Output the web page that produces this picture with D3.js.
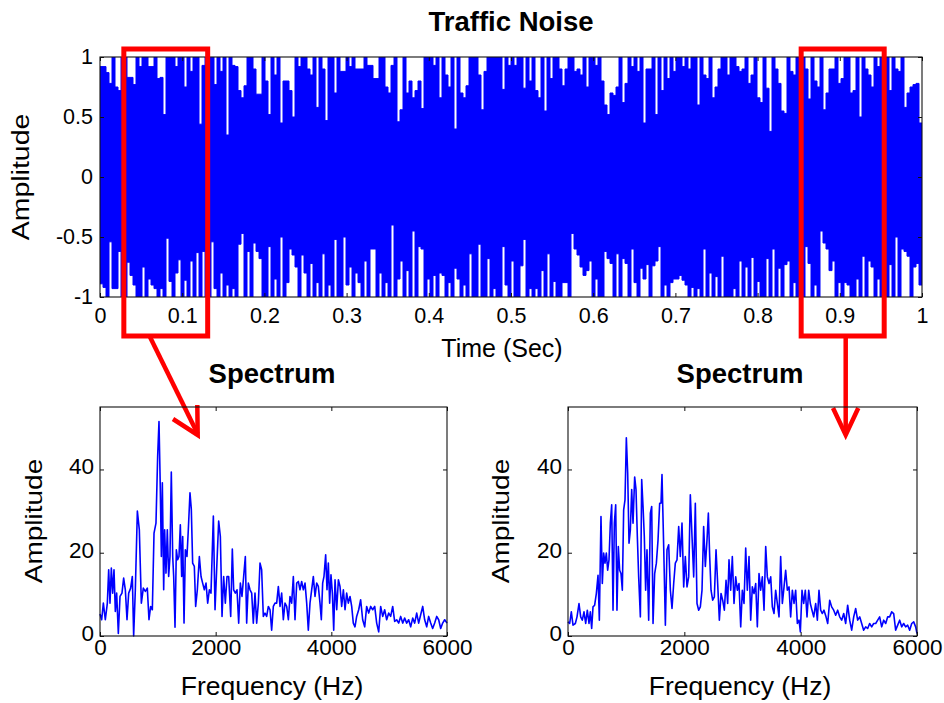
<!DOCTYPE html>
<html>
<head>
<meta charset="utf-8">
<script src="https://cdn.jsdelivr.net/npm/d3@7"></script>
<style>
  body { margin: 0; background: #fff; }
  svg { display: block; }
  text { font-family: "Liberation Sans", Arial, Helvetica, sans-serif; fill: #000; }
</style>
</head>
<body>
<svg id="chart" width="944" height="703"></svg>
<script>
// ---------------- DATA ----------------
const timeTicks = [0, 0.1, 0.2, 0.3, 0.4, 0.5, 0.6, 0.7, 0.8, 0.9, 1];
const ampTicks = [-1, -0.5, 0, 0.5, 1];

// Upper / lower envelope of the traffic-noise waveform (274 equal time slots over 1 s)
const noiseUpper = [
  0.92,0.92,0.87,0.78,1,0.75,0.72,1,1,0.83,
  0.83,0.77,1,0.92,1,1,0.92,0.92,1,0.82,
  0.83,0.52,1,1,1,0.92,1,1,0.75,1,
  0.88,1,1,0.44,0.93,1,1,1,0.77,1,
  0.88,1,0.35,1,0.93,0.92,0.72,0.66,0.76,1,
  1,0.9,0.69,0.69,1,0.8,0.52,1,0.85,1,
  0.45,0.8,0.8,0.72,0.5,1,0.92,1,1,0.9,
  0.85,1,0.58,1,0.9,0.47,1,1,0.7,1,
  0.88,0.88,1,0.92,1,0.9,0.9,0.9,1,0.93,
  0.93,0.82,0.82,1,1,0.75,0.7,0.93,1,0.46,
  0.56,1,0.7,0.8,0.66,0.72,0.8,0.57,1,1,
  1,0.93,1,0.66,1,0.85,0.75,1,0.4,1,
  0.7,0.66,0.76,1,1,1,0.85,0.56,0.88,1,
  1,1,1,1,0.73,1,0.93,1,0.93,1,
  1,0.74,1,0.8,1,0.72,0.66,1,0.55,1,
  0.82,1,1,0.9,0.76,0.9,1,1,0.88,0.9,
  0.85,1,0.75,1,1,0.93,1,0.8,0.6,0.52,
  0.7,0.68,0.75,1,0.62,0.78,1,0.92,1,0.88,
  1,0.45,0.9,0.9,1,0.52,1,0.72,1,0.82,
  1,0.88,1,1,0.92,1,0.9,1,1,0.6,
  1,0.85,0.82,1,0.66,0.75,0.9,1,1,0.85,
  1,1,0.92,0.88,0.9,1,0.78,0.85,1,0.66,
  0.62,1,0.74,0.38,1,0.9,0.78,0.55,0.53,1,
  0.88,0.85,1,1,1,0.9,0.65,1,0.8,0.75,
  1,0.56,0.7,0.9,0.9,1,0.78,0.82,1,1,
  0.7,0.72,1,0.5,1,0.9,0.85,0.75,1,0.92,
  1,1,1,0.72,1,0.9,0.88,1,0.58,0.7,
  0.75,0.77,0.78,0.45
];
const noiseLower = [
  -0.89,-0.92,-1,-0.54,-0.93,-0.93,-0.62,-1,-1,-0.71,
  -0.82,-0.9,-1,-1,-0.75,-1,-0.85,-0.9,-0.93,-1,
  -0.93,-1,-0.51,-0.87,-1,-0.8,-0.69,-1,-0.86,-1,
  -0.7,-1,-0.63,-1,-0.62,-1,-1,-0.54,-0.93,-1,
  -0.8,-1,-0.9,-1,-0.93,-1,-0.56,-0.47,-1,-0.62,
  -1,-0.55,-0.62,-0.68,-1,-1,-0.58,-1,-0.85,-1,
  -0.5,-1,-0.88,-0.6,-0.65,-0.75,-1,-0.65,-0.8,-1,
  -0.72,-1,-0.88,-1,-0.64,-1,-0.9,-1,-0.52,-1,
  -1,-0.5,-0.9,-0.75,-1,-0.8,-0.88,-1,-0.7,-1,
  -0.6,-0.6,-1,-0.8,-1,-0.88,-1,-0.4,-1,-0.85,
  -0.7,-1,-0.78,-1,-0.45,-1,-0.58,-0.6,-1,-0.85,
  -1,-0.82,-1,-0.8,-0.82,-1,-0.88,-1,-0.76,-0.85,
  -1,-0.9,-1,-0.64,-1,-1,-0.56,-1,-1,-0.68,
  -1,-0.93,-1,-1,-0.58,-0.9,-1,-0.7,-1,-1,
  -0.74,-0.52,-1,-0.93,-1,-0.93,-1,-0.78,-1,-0.64,
  -1,-0.87,-1,-1,-0.88,-0.88,-1,-0.47,-0.6,-0.65,
  -0.75,-0.82,-0.78,-0.7,-1,-0.85,-1,-1,-0.62,-0.68,
  -0.72,-1,-0.64,-1,-0.68,-0.72,-1,-0.6,-0.88,-1,
  -0.76,-0.85,-0.73,-1,-0.74,-0.7,-0.58,-1,-0.9,-1,
  -0.88,-0.85,-0.85,-0.82,-0.86,-0.9,-1,-0.92,-1,-0.93,
  -1,-0.6,-1,-0.8,-1,-0.83,-1,-0.66,-1,-1,
  -1,-0.93,-1,-0.7,-1,-0.75,-1,-0.67,-1,-0.87,
  -1,-1,-0.68,-1,-0.6,-1,-0.76,-1,-0.73,-0.7,
  -1,-0.88,-1,-1,-1,-0.58,-0.72,-1,-0.9,-1,
  -0.45,-0.55,-0.6,-0.78,-0.7,-1,-0.88,-1,-0.88,-0.9,
  -1,-1,-0.85,-1,-0.66,-1,-0.7,-0.75,-1,-0.85,
  -1,-1,-1,-0.73,-1,-0.5,-1,-0.6,-0.62,-0.66,
  -1,-0.75,-0.72,-0.9
];

// Time windows highlighted by the red boxes (seconds)
const zoomWindows = [[0.029, 0.131], [0.853, 0.954]];

const freqTicks = [0, 2000, 4000, 6000];
const specTicks = [0, 20, 40];

// Spectrum of the first window (0.03 - 0.13 s)
const spec1Freq = [0,29,58,92,127,150,173,196,219,242,265,288,317,346,380,409,438,467,496,530,559,582,611,646,680,715,749,784,818,847,876,905,934,968,997,1020,1043,1061,1078,1101,1118,1141,1164,1187,1210,1233,1257,1274,1297,1320,1343,1366,1389,1412,1430,1453,1476,1504,1527,1556,1579,1602,1631,1654,1683,1718,1747,1775,1804,1833,1862,1891,1919,1960,1989,2017,2052,2081,2110,2138,2167,2196,2225,2260,2288,2311,2340,2369,2398,2427,2455,2484,2513,2536,2565,2594,2623,2651,2680,2709,2738,2767,2795,2824,2853,2882,2911,2940,2968,2997,3026,3055,3084,3113,3141,3170,3199,3228,3257,3285,3314,3343,3372,3401,3430,3458,3487,3516,3545,3574,3602,3631,3660,3689,3718,3747,3775,3804,3827,3850,3873,3902,3925,3948,3971,3994,4018,4041,4064,4093,4122,4150,4179,4208,4237,4265,4294,4323,4352,4380,4409,4438,4473,4507,4542,4577,4611,4646,4680,4715,4750,4784,4819,4853,4888,4922,4957,4992,5026,5061,5095,5130,5165,5199,5234,5268,5303,5337,5372,5407,5441,5476,5510,5545,5580,5614,5649,5683,5718,5752,5787,5822,5856,5891,5925,5960,6000];
const spec1Amp = [5.3,3.9,7.9,3.9,7.9,15.9,7.9,16.3,10.3,15.9,5.9,10.3,0.6,9.5,10.3,13.9,11.1,3.9,10.3,11.5,14.3,0,11.1,30,25.5,7.9,11.5,10.7,11.5,3.9,7.1,6.3,24.7,27.1,43.2,51.5,35.2,19.1,36.8,11.1,25.5,15.1,25.5,14.3,19.1,39.4,19.1,14.3,2.1,20.7,18.3,19.1,26.7,14.3,23.9,3.1,20.7,19.1,25.5,34.4,30.4,17.5,16.7,7.1,11.1,19.1,14.3,12.7,11.1,12.7,7.9,11.1,10.3,28.8,6.3,15.9,27.6,23.9,4.7,14.3,7.9,14.3,14.3,4.7,20.9,11.1,10.3,11.1,3.1,12.7,9.5,14.3,19.1,3.1,12.7,11.1,10.3,3.1,10.3,3.1,7.9,17.5,15.9,4.7,5.5,4.7,7.1,6.3,1.4,7.1,7.9,7.9,11.9,7.1,10.3,3.9,7.9,7.1,3.9,9.5,7.9,14.3,3.9,12.7,13.1,11.1,13.1,11.1,12.7,7.9,1.4,7.9,11.1,14.3,9.5,12.7,11.9,7.9,3.9,12.7,14.3,19.5,11.1,17.5,7.9,14.7,10.3,1.4,13.5,6.3,13.5,11.9,7.1,11.1,6.3,10.3,7.9,9.5,7.1,3.1,2.2,4.7,6.3,8.7,3.9,2.2,7.1,5.5,7.1,6.3,7.1,3.1,1.0,7.1,4.7,6.3,3.9,5.5,4.7,7.1,3.5,3.9,3.1,4.7,3.1,4.3,3.1,3.9,2.2,4.3,3.1,5.5,3.1,5.1,7.1,3.9,2.2,4.7,3.1,1.8,3.1,4.7,3.9,1.8,3.1,3.9,3.1];

// Spectrum of the second window (0.85 - 0.95 s)
const spec2Freq = [0,29,57,86,126,155,189,218,246,275,304,332,361,384,407,430,458,487,516,539,567,590,613,636,659,682,705,728,751,774,797,820,842,865,888,911,934,957,980,1003,1026,1049,1072,1095,1118,1146,1169,1192,1215,1244,1267,1290,1312,1335,1358,1387,1416,1439,1462,1490,1519,1548,1576,1599,1616,1645,1674,1702,1731,1760,1788,1817,1845,1874,1903,1931,1960,1989,2017,2046,2075,2103,2132,2161,2189,2218,2247,2275,2304,2332,2361,2390,2413,2436,2459,2487,2516,2545,2573,2602,2631,2659,2688,2717,2745,2768,2797,2825,2854,2883,2911,2940,2969,2997,3026,3055,3083,3112,3141,3169,3198,3227,3255,3284,3312,3341,3370,3399,3427,3456,3485,3513,3542,3570,3599,3628,3656,3685,3714,3742,3771,3800,3828,3857,3886,3914,3943,3972,3995,4023,4052,4080,4109,4138,4166,4195,4224,4258,4287,4315,4344,4373,4401,4436,4465,4499,4533,4568,4602,4636,4671,4705,4740,4774,4808,4843,4877,4912,4946,4980,5015,5049,5083,5118,5152,5186,5221,5255,5290,5324,5358,5393,5427,5462,5496,5530,5565,5599,5633,5668,5702,5737,5771,5805,5840,5874,5909,5943,5977,6000];
const spec2Amp = [3.4,3.0,5.8,2.6,3.0,4.6,7.8,4.6,3.8,5.8,3.0,6.2,3.0,5.8,1.8,7.0,7.4,10.2,14.6,3.8,28.7,12.6,19.9,17.5,19.9,15.8,18.3,27.1,31.5,6.2,27.1,31.5,6.2,21.5,15.8,15.0,11.0,30.3,32.7,47.6,39.2,22.3,25.5,35.2,27.1,38.2,35.2,23.9,14.2,4.6,37.6,31.1,23.9,11.0,20.7,3.8,29.5,31.1,3.0,15.0,17.5,23.1,31.9,31.9,38.8,21.5,2.6,20.7,21.9,11.0,6.6,12.6,17.5,18.3,26.3,19.1,27.1,11.8,19.1,11.8,14.2,33.9,23.9,14.2,31.9,7.8,6.2,7.0,11.0,26.3,16.7,23.1,29.5,19.1,11.0,8.6,9.4,20.7,12.6,3.8,10.2,8.6,6.2,13.4,7.8,18.3,11.0,19.1,7.8,14.2,11.0,12.6,2.2,11.0,7.8,21.1,11.0,19.1,3.8,11.8,10.2,12.6,2.2,15.0,11.0,14.2,6.2,21.5,14.2,12.6,14.2,7.0,5.4,11.0,7.8,4.6,19.1,7.8,11.8,15.8,11.0,11.8,4.6,11.0,7.8,11.0,3.0,3.8,1.0,11.0,7.8,11.0,4.6,11.0,7.8,6.2,4.6,7.8,3.8,11.0,6.2,5.4,6.2,4.6,3.0,8.6,7.0,6.2,5.0,6.2,4.6,3.8,5.4,3.0,7.4,3.8,1.4,4.6,6.6,3.8,4.6,3.0,1.4,2.2,1.8,3.0,2.2,3.0,3.0,3.8,4.6,2.2,3.8,3.0,4.6,4.6,5.8,5.4,1.4,2.6,3.8,2.2,3.0,2.2,2.6,1.4,3.0,3.4,2.2,0.6];

// ---------------- LAYOUT ----------------
const BLUE = "#0000ff", RED = "#ff0000";
const FONT = '"Liberation Sans", Arial, Helvetica, sans-serif';
const svg = d3.select("#chart");

function styleAxis(g, fontSize, sx) {
  g.attr("font-size", null).attr("font-family", null).attr("color", "#111");
  g.select(".domain").remove();
  g.selectAll(".tick line").attr("stroke-width", 1);
  g.selectAll(".tick text")
    .style("font-size", fontSize + "px")
    .style("font-family", FONT)
    .attr("fill", "#000")
    .each(function () {
      const t = d3.select(this);
      const x = +t.attr("x") || 0;
      if (sx !== 1) t.attr("transform", `scale(${sx},1)`).attr("x", x / sx);
    });
}

function boxedAxes(g, x, y, xTicks, yTicks, o) {
  const [x0, x1] = x.range(), [y0, y1] = y.range(); // y0 bottom, y1 top
  const gb = g.append("g").attr("transform", `translate(0,${y0})`)
    .call(d3.axisBottom(x).tickValues(xTicks).tickSize(-o.tick).tickPadding(o.xPad).tickFormat(d => String(d)));
  styleAxis(gb, o.tickFont, o.sx);
  const gt = g.append("g").attr("transform", `translate(0,${y1})`)
    .call(d3.axisTop(x).tickValues(xTicks).tickSize(-o.tick).tickFormat(""));
  styleAxis(gt, o.tickFont, 1);
  const gl = g.append("g").attr("transform", `translate(${x0},0)`)
    .call(d3.axisLeft(y).tickValues(yTicks).tickSize(-o.tick).tickPadding(o.yPad).tickFormat(d => String(d)));
  styleAxis(gl, o.tickFont, o.sx);
  gl.selectAll(".tick text").attr("dy", o.yDy);
  const gr = g.append("g").attr("transform", `translate(${x1},0)`)
    .call(d3.axisRight(y).tickValues(yTicks).tickSize(-o.tick).tickFormat(""));
  styleAxis(gr, o.tickFont, 1);
  g.append("rect")
    .attr("x", x0).attr("y", y1).attr("width", x1 - x0).attr("height", y0 - y1)
    .attr("fill", "none").attr("stroke", "#111").attr("stroke-width", 1.1);
}

function label(txt, x, y, size, opts = {}) {
  const sx = opts.sx || 1;
  const rot = opts.rotate ? " rotate(-90)" : "";
  return svg.append("text")
    .attr("transform", `translate(${x},${y}) scale(${sx},1)${rot}`)
    .attr("text-anchor", "middle")
    .attr("dy", opts.dy || 0)
    .style("font-size", size + "px")
    .style("font-weight", opts.bold ? "bold" : "normal")
    .text(txt);
}

// ---------------- TOP: TRAFFIC NOISE ----------------
const xT = d3.scaleLinear().domain([0, 1]).range([100, 922]);
const yT = d3.scaleLinear().domain([-1, 1]).range([297, 57]);

svg.append("clipPath").attr("id", "clipTop")
  .append("rect").attr("x", 100).attr("y", 57).attr("width", 822).attr("height", 240);

const N = noiseUpper.length;
const noise = noiseUpper.map((u, i) => ({ t: i / N, hi: u, lo: noiseLower[i] }));
noise.push({ t: 1, hi: noiseUpper[N - 1], lo: noiseLower[N - 1] });

const noiseArea = d3.area()
  .x(d => xT(d.t)).y0(d => yT(d.lo)).y1(d => yT(d.hi))
  .curve(d3.curveStepAfter);

svg.append("path")
  .datum(noise)
  .attr("clip-path", "url(#clipTop)")
  .attr("d", noiseArea)
  .attr("fill", BLUE).attr("stroke", BLUE).attr("stroke-width", 1);

const gTop = svg.append("g");
boxedAxes(gTop, xT, yT, timeTicks, ampTicks, { tick: 4, xPad: 10.5, yPad: 7, tickFont: 21.5, sx: 1, yDy: "0.32em" });

label("Traffic Noise", 511, 31, 27.5, { bold: true });
label("Time (Sec)", 502, 357, 25);
label("Amplitude", 22.5, 177, 28.5, { rotate: true, sx: 0.85, dy: "0.26em" });

// red boxes marking the analysed windows
svg.append("g").selectAll("rect").data(zoomWindows).join("rect")
  .attr("x", d => xT(d[0])).attr("width", d => xT(d[1]) - xT(d[0]))
  .attr("y", 49).attr("height", 287)
  .attr("fill", "none").attr("stroke", RED).attr("stroke-width", 5);

// arrows
const arrowLine = d3.line();
const arrows = [
  { shaft: [[150, 337], [197.7, 434]], head: [[173, 419], [197.7, 435], [197.3, 405]] },
  { shaft: [[845.7, 337], [845.7, 433]], head: [[833, 408], [845.7, 435], [858.3, 408]] }
];
arrows.forEach(a => {
  svg.append("path").attr("d", arrowLine(a.shaft)).attr("fill", "none").attr("stroke", RED).attr("stroke-width", 4.5);
  svg.append("path").attr("d", arrowLine(a.head)).attr("fill", "none").attr("stroke", RED).attr("stroke-width", 4.5)
    .attr("stroke-linejoin", "miter");
});

// ---------------- BOTTOM: SPECTRA ----------------
function spectrum(x0, x1, freq, amp, cx, ylabX) {
  const x = d3.scaleLinear().domain([0, 6000]).range([x0, x1]);
  const y = d3.scaleLinear().domain([0, 55]).range([636, 407]);
  const g = svg.append("g");
  const pts = freq.map((f, i) => [f, amp[i]]);
  g.append("path")
    .datum(pts)
    .attr("d", d3.line().x(d => x(d[0])).y(d => y(d[1])))
    .attr("fill", "none").attr("stroke", BLUE).attr("stroke-width", 1.6)
    .attr("stroke-linejoin", "round");
  boxedAxes(g, x, y, freqTicks, specTicks, { tick: 4, xPad: 3, yPad: 6, tickFont: 22.5, sx: 1, yDy: "0.2em" });
  label("Spectrum", cx, 383, 27.5, { bold: true });
  label("Frequency (Hz)", cx, 695, 26.5);
  label("Amplitude", ylabX, 521, 28, { rotate: true, sx: 0.85, dy: "0.26em" });
}

spectrum(100, 447, spec1Freq, spec1Amp, 272, 36);
spectrum(568, 917, spec2Freq, spec2Amp, 740, 503);
</script>
</body>
</html>
